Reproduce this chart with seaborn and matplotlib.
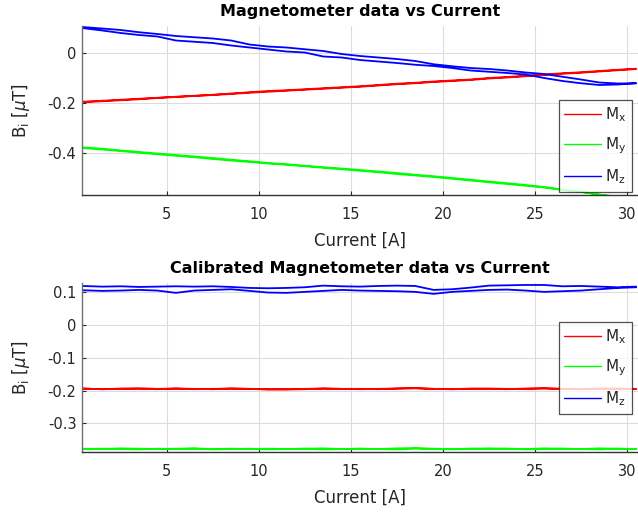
import numpy as np
import pandas as pd
import matplotlib
matplotlib.use("Agg")
import matplotlib.pyplot as plt
import seaborn as sns

# ---------------- data ----------------
current_up = [0.4, 1.5, 2.5, 3.5, 4.5, 5.5, 6.5, 7.5, 8.5, 9.5, 10.5, 11.5, 12.5, 13.5, 14.5,
              15.5, 16.5, 17.5, 18.5, 19.5, 20.5, 21.5, 22.5, 23.5, 24.5, 25.5, 26.5, 27.5,
              28.5, 29.5, 30.5]
current_down = current_up[::-1]

# raw magnetometer data, up sweep then down sweep
raw_mx_up = [-0.195, -0.191, -0.187, -0.183, -0.179, -0.175, -0.171, -0.167, -0.162, -0.157,
             -0.152, -0.149, -0.145, -0.141, -0.137, -0.133, -0.128, -0.123, -0.119, -0.114,
             -0.110, -0.106, -0.100, -0.096, -0.091, -0.086, -0.081, -0.077, -0.072, -0.067,
             -0.063]
raw_mx_down = [-0.064, -0.069, -0.074, -0.079, -0.083, -0.088, -0.093, -0.098, -0.102, -0.108,
               -0.112, -0.116, -0.121, -0.125, -0.130, -0.135, -0.139, -0.143, -0.147, -0.151,
               -0.155, -0.159, -0.164, -0.168, -0.172, -0.176, -0.180, -0.185, -0.189, -0.193,
               -0.197]
raw_my_up = [-0.377, -0.383, -0.390, -0.396, -0.402, -0.408, -0.414, -0.420, -0.427, -0.433,
             -0.440, -0.445, -0.451, -0.457, -0.462, -0.468, -0.474, -0.480, -0.487, -0.493,
             -0.500, -0.507, -0.514, -0.521, -0.528, -0.536, -0.546, -0.555, -0.566, -0.575,
             -0.582]
raw_my_down = [-0.583, -0.576, -0.567, -0.556, -0.548, -0.538, -0.531, -0.524, -0.517, -0.510,
               -0.503, -0.496, -0.490, -0.484, -0.477, -0.471, -0.465, -0.459, -0.453, -0.447,
               -0.442, -0.436, -0.430, -0.424, -0.417, -0.411, -0.405, -0.399, -0.392, -0.386,
               -0.380]
raw_mz_up = [0.104, 0.098, 0.092, 0.083, 0.076, 0.068, 0.063, 0.058, 0.050, 0.034,
             0.026, 0.022, 0.015, 0.008, -0.004, -0.012, -0.018, -0.024, -0.032, -0.045,
             -0.053, -0.060, -0.064, -0.070, -0.078, -0.084, -0.095, -0.106, -0.118, -0.122,
             -0.121]
raw_mz_down = [-0.121, -0.126, -0.128, -0.121, -0.112, -0.100, -0.086, -0.080, -0.075, -0.070,
               -0.060, -0.052, -0.047, -0.040, -0.034, -0.028, -0.018, -0.014, 0.002, 0.006,
               0.014, 0.022, 0.030, 0.040, 0.045, 0.050, 0.066, 0.072, 0.080, 0.090,
               0.100]

# calibrated magnetometer data
cal_mx_up = [-0.194, -0.196, -0.195, -0.193, -0.195, -0.194, -0.196, -0.195, -0.194, -0.195,
             -0.197, -0.196, -0.195, -0.194, -0.195, -0.196, -0.195, -0.194, -0.193, -0.195,
             -0.196, -0.195, -0.194, -0.195, -0.195, -0.194, -0.195, -0.196, -0.195, -0.194,
             -0.195]
cal_mx_down = [-0.196, -0.195, -0.194, -0.196, -0.195, -0.193, -0.194, -0.196, -0.195, -0.194,
               -0.196, -0.195, -0.193, -0.194, -0.196, -0.195, -0.195, -0.194, -0.196, -0.197,
               -0.196, -0.195, -0.194, -0.196, -0.195, -0.194, -0.196, -0.195, -0.194, -0.196,
               -0.194]
cal_my_up = [-0.377, -0.378, -0.376, -0.377, -0.378, -0.377, -0.376, -0.378, -0.377, -0.378,
             -0.377, -0.378, -0.377, -0.376, -0.378, -0.377, -0.378, -0.376, -0.375, -0.377,
             -0.378, -0.377, -0.376, -0.377, -0.378, -0.376, -0.377, -0.378, -0.376, -0.377,
             -0.378]
cal_my_down = [-0.378, -0.377, -0.379, -0.378, -0.377, -0.378, -0.379, -0.377, -0.378, -0.377,
               -0.379, -0.378, -0.377, -0.379, -0.378, -0.377, -0.378, -0.379, -0.377, -0.378,
               -0.379, -0.377, -0.378, -0.379, -0.377, -0.378, -0.377, -0.379, -0.378, -0.377,
               -0.378]
cal_mz_up = [0.118, 0.116, 0.117, 0.115, 0.116, 0.117, 0.116, 0.117, 0.115, 0.112,
             0.111, 0.112, 0.114, 0.119, 0.117, 0.116, 0.118, 0.119, 0.118, 0.106,
             0.108, 0.113, 0.119, 0.120, 0.121, 0.121, 0.117, 0.118, 0.116, 0.114,
             0.116]
cal_mz_down = [0.114, 0.112, 0.108, 0.104, 0.102, 0.100, 0.104, 0.107, 0.106, 0.103,
               0.100, 0.094, 0.100, 0.102, 0.103, 0.104, 0.106, 0.103, 0.100, 0.097,
               0.098, 0.103, 0.108, 0.106, 0.104, 0.097, 0.104, 0.106, 0.104, 0.103,
               0.105]

series_labels = ["M$_{\\rm x}$", "M$_{\\rm y}$", "M$_{\\rm z}$"]
series_colors = ["#ff0000", "#00ff00", "#0000ff"]
titles = ["Magnetometer data vs Current", "Calibrated Magnetometer data vs Current"]
xticks = [5, 10, 15, 20, 25, 30]
yticks_raw = [-0.4, -0.2, 0]
yticks_cal = [-0.3, -0.2, -0.1, 0, 0.1]
xlim = (0.4, 30.6)
ylim_raw = (-0.568, 0.108)
ylim_cal = (-0.387, 0.127)

# ---------------- styling ----------------
sns.set_theme(style="white")
plt.rcParams["font.family"] = ["DejaVu Sans"]
plt.rcParams["mathtext.fontset"] = "dejavusans"

TXT = "#262626"

fig = plt.figure(figsize=(6.38, 5.13), dpi=100)
W, H = 638.0, 513.0
ax1 = fig.add_axes([82 / W, 1 - 195 / H, 556 / W, 169 / H])
ax2 = fig.add_axes([82 / W, 1 - 452 / H, 556 / W, 169 / H])


def make_df(up_list, down_list):
    return pd.DataFrame({
        "current": current_up + current_down,
        "B": up_list + down_list,
    })


def draw(ax, data, title, yticks, ylim, legend_top):
    for (up, down), lab, col in zip(data, series_labels, series_colors):
        df = make_df(up, down)
        sns.lineplot(data=df, x="current", y="B", ax=ax, sort=False, estimator=None,
                     color=col, lw=1.3, label=lab)
    ax.set_xlim(*xlim)
    ax.set_ylim(*ylim)
    ax.set_xticks(xticks)
    ax.set_yticks(yticks)
    ax.set_yticklabels([("%g" % t) for t in yticks])
    ax.grid(True, color="#dcdcdc", lw=0.8)
    ax.set_axisbelow(True)
    for s in ["top", "right"]:
        ax.spines[s].set_visible(False)
    ax.spines["left"].set_color("#6f6f6f")
    ax.spines["bottom"].set_color("#333333")
    ax.spines["left"].set_linewidth(1.0)
    ax.spines["bottom"].set_linewidth(1.0)
    ax.tick_params(axis="both", direction="in", length=3, width=0.8, colors=TXT,
                   labelsize=10.5, left=True, bottom=True)
    ax.tick_params(axis="x", pad=9)
    ax.tick_params(axis="y", pad=4)
    ax.set_xlabel("Current [A]", fontsize=12, color=TXT, labelpad=7)
    ax.set_ylabel("B$_{\\rm i}$ [$\\mu$T]", fontsize=12, color=TXT, labelpad=11)
    ax.set_title(title, fontsize=11.5, fontweight="bold", color="#000000", pad=7)
    leg = ax.legend(loc="upper right", bbox_to_anchor=(0.989, legend_top),
                    borderaxespad=0, frameon=True, fancybox=False, fontsize=11,
                    handlelength=2.4, labelspacing=0.75, borderpad=0.35,
                    handletextpad=0.3)
    leg.get_frame().set_edgecolor("#262626")
    leg.get_frame().set_linewidth(0.9)
    for line in leg.get_lines():
        line.set_linewidth(1.0)
    for t in leg.get_texts():
        t.set_color(TXT)


raw = [(raw_mx_up, raw_mx_down), (raw_my_up, raw_my_down), (raw_mz_up, raw_mz_down)]
cal = [(cal_mx_up, cal_mx_down), (cal_my_up, cal_my_down), (cal_mz_up, cal_mz_down)]
draw(ax1, raw, titles[0], yticks_raw, ylim_raw, 0.562)
draw(ax2, cal, titles[1], yticks_cal, ylim_cal, 0.769)

fig.savefig("out.png", dpi=100)
